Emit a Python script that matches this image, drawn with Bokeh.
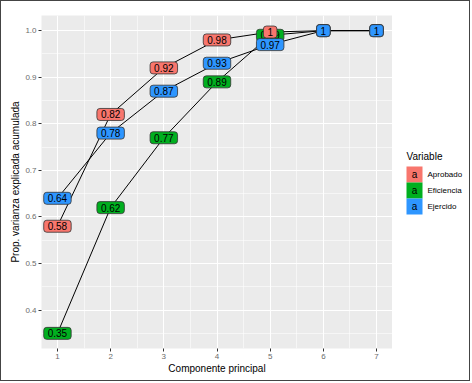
from bokeh.plotting import figure
from bokeh.models import Range1d, FixedTicker, PrintfTickFormatter, ColumnDataSource
from bokeh.layouts import row
from bokeh.core.properties import value
from bokeh.embed import file_html
from bokeh.resources import INLINE

components = [1, 2, 3, 4, 5, 6, 7]
aprobado = [0.58, 0.82, 0.92, 0.98, 0.997, 1.0, 1.0]
eficiencia = [0.35, 0.62, 0.77, 0.89, 0.99, 1.0, 1.0]
ejercido = [0.64, 0.78, 0.87, 0.93, 0.97, 1.0, 1.0]
series_names = ["Aprobado", "Eficiencia", "Ejercido"]
series_colors = ["#F8766D", "#00AF1F", "#2E96FF"]
x_ticks = [1, 2, 3, 4, 5, 6, 7]
y_ticks = [0.4, 0.5, 0.6, 0.7, 0.8, 0.9, 1.0]

FONT_NAME = "Liberation Sans"
FONT = value(FONT_NAME)
TOP, FH, BOTTOM = 14, 333, 32

p = figure(
    output_backend="svg", toolbar_location=None,
    frame_width=351, frame_height=FH,
    min_border_left=40, min_border_top=TOP, min_border_bottom=BOTTOM, min_border_right=0,
    x_range=Range1d(0.7, 7.3), y_range=Range1d(0.3175, 1.0325),
    background_fill_color="#EBEBEB", border_fill_color="white",
    outline_line_color=None,
)

p.xaxis.ticker = FixedTicker(ticks=x_ticks, minor_ticks=[t + 0.5 for t in x_ticks])
p.yaxis.ticker = FixedTicker(ticks=y_ticks, minor_ticks=[round(t - 0.05, 2) for t in y_ticks] + [1.05])
p.yaxis.formatter = PrintfTickFormatter(format="%.1f")

for ax in (p.xaxis, p.yaxis):
    ax.axis_line_color = None
    ax.major_tick_line_color = "#333333"
    ax.major_tick_out = 3
    ax.major_tick_in = 0
    ax.minor_tick_line_color = None
    ax.major_label_text_font = FONT_NAME
    ax.major_label_text_font_size = "8px"
    ax.major_label_text_color = "#6B6B6B"
    ax.major_label_standoff = 1
    ax.axis_label_text_font = FONT_NAME
    ax.axis_label_text_font_size = "10px"
    ax.axis_label_text_font_style = "normal"
    ax.axis_label_text_color = "black"
    ax.axis_label_standoff = 1

p.xaxis.axis_label = "Componente principal"
p.yaxis.axis_label = "Prop. varianza explicada acumulada"

for g in (p.xgrid, p.ygrid):
    g.grid_line_color = "white"
    g.grid_line_width = 1.1
    g.minor_grid_line_color = "white"
    g.minor_grid_line_width = 0.55

data = {"Aprobado": aprobado, "Eficiencia": eficiencia, "Ejercido": ejercido}
colors = dict(zip(series_names, series_colors))

for name in series_names:
    p.line(components, data[name], line_color="black", line_width=1)


def fmt(v):
    return f"{v:.2f}".rstrip("0").rstrip(".")

for name in ["Eficiencia", "Aprobado", "Ejercido"]:
    src = ColumnDataSource(dict(x=components, y=data[name], label=[fmt(v) for v in data[name]]))
    p.text(x="x", y="y", text="label", source=src,
           text_align="center", text_baseline="middle",
           text_font=FONT, text_font_size="10px", text_color="black",
           background_fill_color=colors[name], border_line_color="#333333",
           border_line_width=0.8, border_radius=3,
           padding=dict(left=4, right=4, top=2, bottom=2))

# ---- legend panel: ranges in canvas pixels (y downwards), frame aligned with main plot ----
LW = 77
leg = figure(
    output_backend="svg", toolbar_location=None,
    frame_width=LW, frame_height=FH,
    min_border_left=0, min_border_right=0, min_border_top=TOP, min_border_bottom=BOTTOM,
    x_axis_type=None, y_axis_type=None,
    x_range=Range1d(0, LW), y_range=Range1d(TOP + FH, TOP),
    background_fill_color="white", border_fill_color="white",
    outline_line_color=None,
)
leg.grid.visible = False

key_left, key_size, title_y, first_row = 14, 16, 155, 165
rows_y = [first_row + key_size * i + key_size / 2 for i in range(len(series_names))]
leg_src = ColumnDataSource(dict(
    x=[key_left + key_size / 2] * len(series_names),
    lx=[key_left + key_size + 5] * len(series_names),
    y=rows_y, name=series_names, color=series_colors, a=["a"] * len(series_names)))
leg.rect(x="x", y="y", width=key_size, height=key_size, fill_color="color",
         line_color=None, source=leg_src)
leg.text(x="x", y="y", text="a", source=leg_src, text_align="center", text_baseline="middle",
         text_font=FONT, text_font_size="10px", text_color="black")
leg.text(x="lx", y="y", text="name", source=leg_src, text_align="left", text_baseline="middle",
         text_font=FONT, text_font_size="8px", text_color="black")
leg.text(x=[key_left], y=[title_y], text=["Variable"], text_align="left", text_baseline="middle",
         text_font=FONT, text_font_size="10px", text_color="black")

layout = row(p, leg, styles={"border": "1px solid #444"})

open("out.html", "w").write(file_html(layout, INLINE))
